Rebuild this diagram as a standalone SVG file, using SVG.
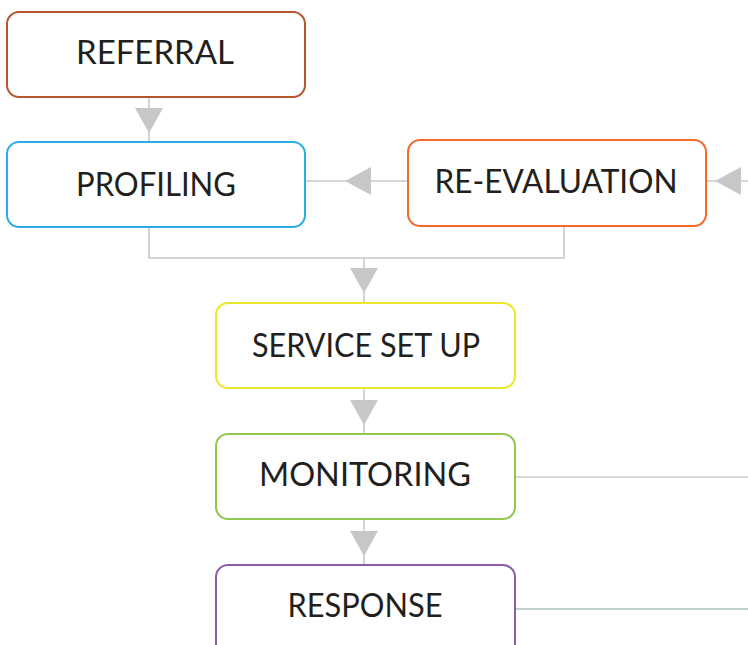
<svg xmlns="http://www.w3.org/2000/svg" width="748" height="645" viewBox="0 0 748 645">
  <style>
    .box { fill: #ffffff; stroke-width: 2; }
    .label { font-family: Lato, "Open Sans", "Liberation Sans", sans-serif; font-size: 33px; fill: #231f20; text-anchor: middle; }
    .wire { fill: none; stroke: #c8c9cb; stroke-width: 1.6; }
    .head { fill: #c6c7c9; }
  </style>

  <!-- connectors -->
  <g id="connectors">
    <!-- referral to profiling -->
    <line class="wire" x1="149" y1="97" x2="149" y2="142"/>
    <polygon class="head" points="135,108 163,108 149,133"/>
    <!-- re-evaluation to profiling -->
    <line class="wire" x1="305" y1="181" x2="408" y2="181"/>
    <polygon class="head" points="345,181 371,167 371,195"/>
    <!-- incoming from right into re-evaluation -->
    <line class="wire" x1="706" y1="181" x2="748" y2="181"/>
    <polygon class="head" points="715,181 741,167 741,195"/>
    <!-- profiling and re-evaluation merge into service set up -->
    <polyline class="wire" points="149,227 149,258 564,258 564,226"/>
    <line class="wire" x1="364" y1="258" x2="364" y2="303"/>
    <polygon class="head" points="350,268 378,268 364,293"/>
    <!-- service set up to monitoring -->
    <line class="wire" x1="364" y1="388" x2="364" y2="434"/>
    <polygon class="head" points="350,400 378,400 364,425"/>
    <!-- monitoring to response -->
    <line class="wire" x1="364" y1="519" x2="364" y2="565"/>
    <polygon class="head" points="350,531 378,531 364,556"/>
    <!-- outgoing lines to the right -->
    <line x1="515" y1="477" x2="748" y2="477" stroke="#c9cdcd" stroke-width="1.6"/>
    <line x1="515" y1="609" x2="748" y2="609" stroke="#aabfbe" stroke-width="1.6"/>
  </g>

  <g id="referral">
    <rect class="box" x="7" y="12" width="298" height="85" rx="12" stroke="#b5562b"/>
    <text class="label" x="155" y="64" textLength="158" lengthAdjust="spacingAndGlyphs">REFERRAL</text>
  </g>

  <g id="profiling">
    <rect class="box" x="7" y="142" width="298" height="85" rx="12" stroke="#29aee3"/>
    <text class="label" x="156" y="196" textLength="160" lengthAdjust="spacingAndGlyphs">PROFILING</text>
  </g>

  <g id="re-evaluation">
    <rect class="box" x="408" y="140" width="298" height="86" rx="12" stroke="#f26a2c"/>
    <text class="label" x="556" y="193" textLength="243" lengthAdjust="spacingAndGlyphs">RE-EVALUATION</text>
  </g>

  <g id="service-set-up">
    <rect class="box" x="216" y="303" width="299" height="85" rx="12" stroke="#ede72a"/>
    <text class="label" x="366" y="357" textLength="228" lengthAdjust="spacingAndGlyphs">SERVICE SET UP</text>
  </g>

  <g id="monitoring">
    <rect class="box" x="216" y="434" width="299" height="85" rx="12" stroke="#8fc74f"/>
    <text class="label" x="365" y="486" textLength="212" lengthAdjust="spacingAndGlyphs">MONITORING</text>
  </g>

  <g id="response">
    <rect class="box" x="216" y="565" width="299" height="95" rx="12" stroke="#8b5ca8"/>
    <text class="label" x="365" y="617" textLength="155" lengthAdjust="spacingAndGlyphs">RESPONSE</text>
  </g>
</svg>
